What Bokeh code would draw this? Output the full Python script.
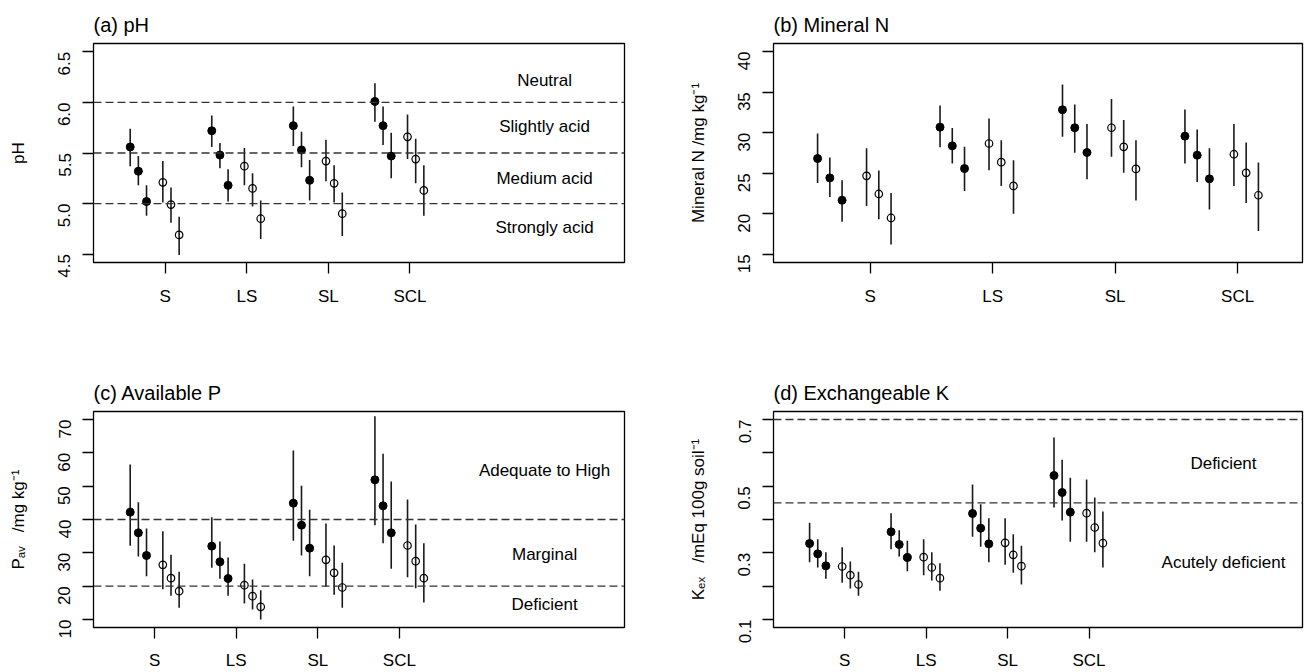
import math
from bokeh.plotting import figure
from bokeh.models import FixedTicker, CustomJSTickFormatter, Span, ColumnDataSource, Range1d
from bokeh.layouts import column, row
from bokeh.embed import file_html
from bokeh.resources import INLINE
from bokeh.core.properties import value

# ---------------- data ----------------
soils = ["S", "LS", "SL", "SCL"]
# within each soil: 3 filled (first series) then 3 open (second series)
is_filled = [True, True, True, False, False, False]

ph_mean = [5.56, 5.32, 5.02, 5.21, 4.99, 4.69,
           5.72, 5.48, 5.18, 5.37, 5.15, 4.85,
           5.77, 5.53, 5.23, 5.42, 5.20, 4.90,
           6.01, 5.77, 5.47, 5.66, 5.44, 5.13]
ph_lo = [5.37, 5.18, 4.88, 5.01, 4.81, 4.49,
         5.56, 5.35, 5.02, 5.18, 4.97, 4.65,
         5.57, 5.36, 5.03, 5.22, 5.01, 4.68,
         5.81, 5.58, 5.25, 5.44, 5.20, 4.88]
ph_hi = [5.74, 5.47, 5.18, 5.42, 5.16, 4.87,
         5.87, 5.60, 5.34, 5.55, 5.30, 5.03,
         5.96, 5.71, 5.43, 5.63, 5.38, 5.11,
         6.19, 5.96, 5.70, 5.88, 5.64, 5.38]

n_mean = [26.82, 24.43, 21.67, 24.68, 22.45, 19.49,
          30.69, 28.38, 25.58, 28.67, 26.37, 23.44,
          32.83, 30.61, 27.56, 30.61, 28.26, 25.54,
          29.58, 27.23, 24.31, 27.35, 25.05, 22.29]
n_lo = [23.81, 22.08, 19.03, 20.97, 19.32, 16.23,
        28.22, 26.20, 22.82, 25.38, 23.44, 20.02,
        29.50, 27.52, 24.27, 27.03, 25.05, 21.63,
        26.20, 23.94, 20.52, 23.44, 21.34, 17.88]
n_hi = [29.91, 26.94, 24.14, 28.10, 25.34, 22.58,
        33.37, 30.57, 28.26, 31.76, 29.08, 26.61,
        35.96, 33.49, 31.06, 34.15, 31.56, 29.08,
        32.87, 30.40, 28.10, 31.06, 28.80, 26.33]

p_mean = [42.2, 36.0, 29.2, 26.4, 22.4, 18.5,
          32.0, 27.3, 22.3, 20.3, 17.0, 13.8,
          44.9, 38.3, 31.4, 27.9, 24.0, 19.6,
          51.9, 44.1, 36.0, 32.2, 27.5, 22.4]
p_lo = [32.1, 28.9, 23.0, 19.1, 17.1, 13.5,
        25.5, 22.2, 17.1, 14.8, 13.0, 10.0,
        33.6, 29.2, 23.0, 19.8, 17.4, 13.5,
        38.3, 32.9, 25.2, 22.7, 19.4, 15.1]
p_hi = [56.5, 45.2, 37.3, 36.5, 29.4, 24.3,
        40.7, 33.4, 28.6, 26.7, 22.0, 18.8,
        60.7, 50.1, 42.9, 38.8, 32.2, 27.0,
        71.0, 59.7, 51.4, 46.0, 38.5, 32.9]

k_mean = [0.328, 0.297, 0.261, 0.259, 0.233, 0.205,
          0.363, 0.325, 0.286, 0.287, 0.256, 0.224,
          0.418, 0.374, 0.327, 0.330, 0.294, 0.260,
          0.532, 0.481, 0.422, 0.419, 0.376, 0.329]
k_lo = [0.272, 0.256, 0.222, 0.210, 0.193, 0.171,
        0.311, 0.289, 0.245, 0.233, 0.217, 0.186,
        0.348, 0.318, 0.272, 0.264, 0.240, 0.205,
        0.436, 0.397, 0.333, 0.333, 0.302, 0.256]
k_hi = [0.390, 0.341, 0.302, 0.317, 0.274, 0.243,
        0.419, 0.368, 0.336, 0.341, 0.302, 0.269,
        0.505, 0.446, 0.404, 0.404, 0.356, 0.321,
        0.646, 0.579, 0.525, 0.520, 0.466, 0.424]

ph_classes = ["Neutral", "Slightly acid", "Medium acid", "Strongly acid"]
ph_class_y = [6.22, 5.76, 5.25, 4.76]
ph_limits = [6.0, 5.5, 5.0]

p_classes = ["Adequate to High", "Marginal", "Deficient"]
p_class_y = [54.7, 29.5, 14.5]
p_limits = [40, 20]

k_classes = ["Deficient", "Acutely deficient"]
k_class_y = [0.567, 0.271]
k_limits = [0.7, 0.45]

# ---------------- layout constants ----------------
FONT = "Liberation Sans"
group_pos = [1, 2, 3, 4]
dodge = [0.0, 0.1, 0.2, 0.4, 0.5, 0.6]
note_x = 6.08
GAP = "\u00a0\u00a0\u00a0"


def xs_of():
    return [g + d for g in group_pos for d in dodge]


def make_panel(title, ylabel, mean, lo, hi, xr, yr, yticks, yfmt, tick_shift,
               limits, notes, notes_y, borders, xstand):
    left, right, top, bottom = borders
    p = figure(width=653, height=336, x_range=Range1d(*xr), y_range=Range1d(*yr),
               output_backend="svg", toolbar_location=None,
               min_border_left=left, min_border_right=right,
               min_border_top=top, min_border_bottom=bottom, title=title)
    p.title.text_font = FONT
    p.title.text_font_size = "20px"
    p.title.text_font_style = "normal"
    p.title.text_color = "black"
    p.title.align = "left"
    p.title.standoff = 15
    p.xgrid.visible = False
    p.ygrid.visible = False
    p.outline_line_color = "black"
    p.outline_line_width = 1.3
    p.outline_line_alpha = 1.0

    for ax in (p.xaxis[0], p.yaxis[0]):
        ax.axis_line_color = None
        ax.major_tick_line_color = "black"
        ax.major_tick_line_width = 1.3
        ax.major_tick_out = 11
        ax.major_tick_in = 0
        ax.minor_tick_line_color = None
        ax.major_label_text_font = FONT
        ax.major_label_text_font_size = "17px"
        ax.major_label_text_color = "black"
        ax.axis_label_text_font = FONT
        ax.axis_label_text_font_size = "17px"
        ax.axis_label_text_font_style = "normal"
        ax.axis_label_text_color = "black"

    p.xaxis.ticker = FixedTicker(ticks=[g + tick_shift for g in group_pos])
    p.xaxis.formatter = CustomJSTickFormatter(args=dict(labels=soils),
                                              code="return labels[index];")
    p.xaxis.major_label_standoff = xstand

    p.yaxis.ticker = FixedTicker(ticks=yticks)
    p.yaxis.formatter = CustomJSTickFormatter(code=yfmt)
    p.yaxis.major_label_orientation = math.pi / 2
    p.yaxis.major_label_standoff = 18
    p.yaxis.axis_label = ylabel
    p.yaxis.axis_label_standoff = 22

    for v in limits:
        p.add_layout(Span(location=v, dimension="width", line_color="#333333",
                          line_width=1.3, line_dash="8 4"))

    xs = xs_of()
    fill = [is_filled[i % 6] for i in range(len(xs))]
    seg = ColumnDataSource(dict(x=xs, lo=lo, hi=hi))
    p.segment(x0="x", y0="lo", x1="x", y1="hi", source=seg,
              line_color="#1a1a1a", line_width=1.6)
    f_src = ColumnDataSource(dict(x=[x for x, f in zip(xs, fill) if f],
                                  y=[m for m, f in zip(mean, fill) if f]))
    o_src = ColumnDataSource(dict(x=[x for x, f in zip(xs, fill) if not f],
                                  y=[m for m, f in zip(mean, fill) if not f]))
    p.scatter(x="x", y="y", source=f_src, marker="circle", size=8,
              fill_color="black", line_color="black", line_width=1)
    p.scatter(x="x", y="y", source=o_src, marker="circle", size=7.5,
              fill_color=None, line_color="black", line_width=1.2)

    if notes:
        t_src = ColumnDataSource(dict(x=[note_x] * len(notes), y=notes_y, t=notes))
        p.text(x="x", y="y", text="t", source=t_src, text_font=value(FONT),
               text_font_size="17px", text_align="center", text_baseline="middle",
               text_color="black")
    return p


fmt1 = "return tick.toFixed(1);"
fmt0 = "return tick.toFixed(0);"
fmtk = "var k = Math.round(tick*10); return (k % 2 == 1) ? tick.toFixed(1) : '';"

pa = make_panel("(a) pH", "pH", ph_mean, ph_lo, ph_hi, (0.55, 7.06), (4.417, 6.583),
                [4.5, 5.0, 5.5, 6.0, 6.5], fmt1, 0.43, ph_limits, ph_classes, ph_class_y,
                (93, 29, 43, 74), 13)
pb = make_panel("(b) Mineral N", "Mineral N /mg kg\u207b\u00b9", n_mean, n_lo, n_hi,
                (0.64, 4.96), (14.0, 41.0), [15, 20, 25, 30, 35, 40], fmt0, 0.43,
                [], [], [], (120, 4, 43, 74), 13)
pc = make_panel("(c) Available P", "P\u2090\u1d65" + GAP + "/mg kg\u207b\u00b9", p_mean, p_lo, p_hi,
                (0.55, 7.06), (7.6, 72.4), [10, 20, 30, 40, 50, 60, 70], fmt0, 0.30,
                p_limits, p_classes, p_class_y, (93, 29, 75, 43), 12)
pd_ = make_panel("(d) Exchangeable K", "K\u2091\u2093" + GAP + "/mEq 100g soil\u207b\u00b9", k_mean, k_lo, k_hi,
                 (0.557, 7.05), (0.076, 0.724), [0.1, 0.2, 0.3, 0.4, 0.5, 0.6, 0.7], fmtk, 0.43,
                 k_limits, k_classes, k_class_y, (120, 4, 75, 43), 12)

layout = column(row(pa, pb), row(pc, pd_))
open("out.html", "w").write(file_html(layout, INLINE))
